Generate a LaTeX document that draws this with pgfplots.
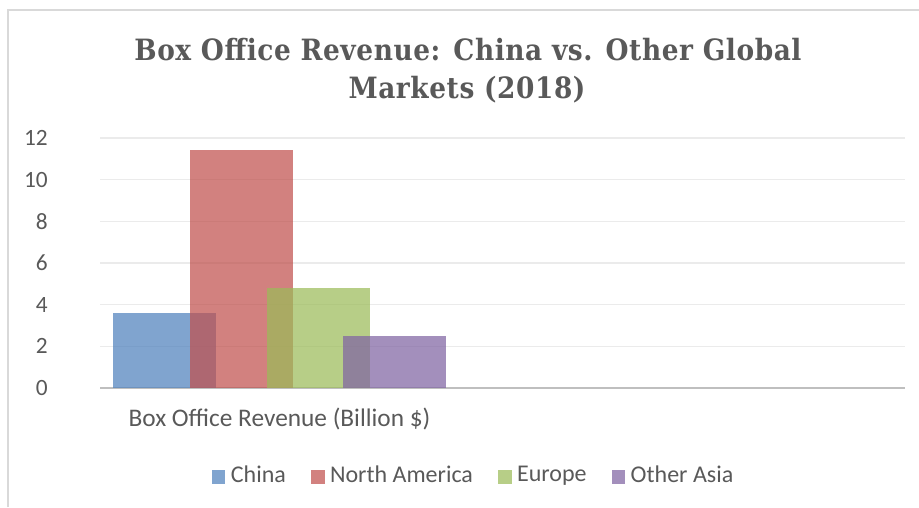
\documentclass[border=0pt]{standalone}
\usepackage{pgfplots}
\pgfplotsset{compat=1.18}
\usepackage{fontspec}
\setmainfont{Carlito}
\newfontfamily\titlefont[LetterSpace=2]{DejaVu Serif Condensed}
\definecolor{txt}{HTML}{595959}
\definecolor{cChina}{HTML}{4F81BD}
\definecolor{cNA}{HTML}{C0504D}
\definecolor{cEU}{HTML}{9BBB59}
\definecolor{cOA}{HTML}{8064A2}
\begin{document}
\begin{tikzpicture}[x=0.75pt,y=0.75pt]
\path[use as bounding box] (0,0) rectangle (919,507);
\draw[color=black!15, line width=1.2pt] (8,0) -- (8,497) -- (919,497);
\node[anchor=base, text=txt, font=\titlefont\bfseries\fontsize{22pt}{26pt}\selectfont] at (468,446) {Box Office Revenue: China vs. Other Global};
\node[anchor=base, text=txt, font=\titlefont\bfseries\fontsize{22pt}{26pt}\selectfont] at (467,408) {Markets (2018)};
\begin{axis}[
  at={(75pt,89.25pt)}, anchor=south west,
  scale only axis, width=603.75pt, height=187.5pt,
  xmin=-179.5, xmax=625.5,
  ymin=0, ymax=12,
  ytick={0,2,...,12},
  xtick={0},
  xticklabels={Box Office Revenue (Billion \$)},
  /pgf/number format/assume math mode=true,
  axis x line*=bottom, axis y line*=left,
  x axis line style={draw=black!25, line width=1.5pt, -},
  y axis line style={draw=none},
  major tick length=0pt,
  ymajorgrids, grid style={draw=black!8, line width=1.1pt},
  yticklabel style={text=txt, font=\fontsize{17.5pt}{20pt}\selectfont, anchor=east, inner sep=0pt, xshift=-39pt},
  xticklabel style={text=txt, font=\fontsize{19pt}{22pt}\selectfont, anchor=base, inner sep=0pt, yshift=-28.5pt},
  ybar, bar width=103,
  every axis plot/.append style={draw=none, fill opacity=0.72},
  legend style={at={(0.4646,-0.348)}, anchor=center, draw=none, fill=none,
    legend columns=4, font=\fontsize{18pt}{20pt}\selectfont, text=txt,
    /tikz/every even column/.append style={column sep=17pt},
    /tikz/every odd column/.append style={column sep=0pt},
    legend cell align=left},
  legend image code/.code={\fill[#1] (0pt,-6.5pt) rectangle (10pt,4pt);\path (12.1pt,0pt);},
  clip=false,
]
\addplot[fill=cChina, bar shift=-115] coordinates {(0,3.6)};
\addplot[fill=cNA, bar shift=-38] coordinates {(0,11.4)};
\addplot[fill=cEU, bar shift=39] coordinates {(0,4.8)};
\addplot[fill=cOA, bar shift=115] coordinates {(0,2.5)};
\legend{China, North America, Europe, Other Asia}
\end{axis}
\end{tikzpicture}
\end{document}
